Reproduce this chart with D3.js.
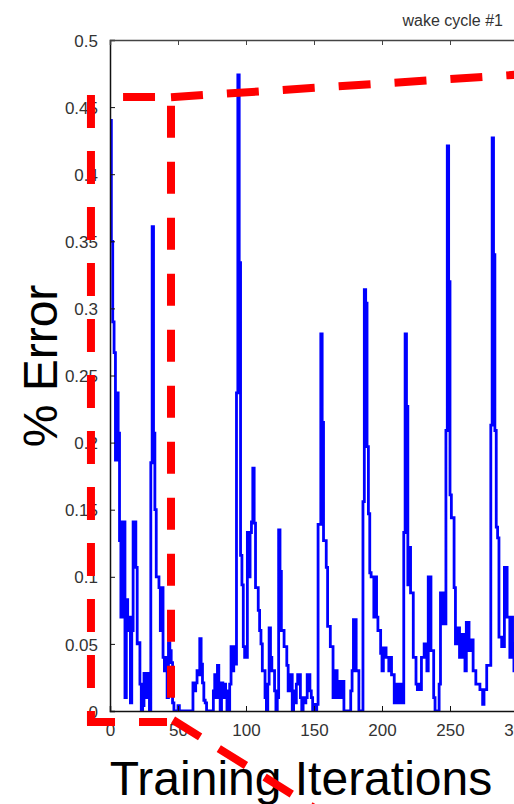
<!DOCTYPE html>
<html>
<head>
<meta charset="utf-8">
<script src="https://cdn.jsdelivr.net/npm/d3@7"></script>
<style>
  body { margin: 0; background: #fff; }
  .tick-label { font-family: "Liberation Sans", Arial, sans-serif; font-size: 17px; fill: #333; }
  .axis-title { font-family: "Liberation Sans", Arial, sans-serif; font-size: 48px; fill: #000; }
  .plot-title { font-family: "Liberation Sans", Arial, sans-serif; font-size: 16px; fill: #333; }
</style>
</head>
<body>
<div id="chart"></div>
<script>

// error per training iteration (index = iteration)
var errorRate = [
  0.44, 0.35, 0.29, 0.267, 0.187, 0.237, 0.207, 0.127, 0.07, 0.141,
  0.141, 0.01, 0.083, 0.06, 0.07, 0.006, 0.06, 0.141, 0.141, 0.107,
  0.05, 0.051, 0.02, 0.0, 0.004, 0.028, 0.028, 0.01, 0.028, 0.0,
  0.185, 0.361, 0.207, 0.15, 0.1, 0.1, 0.092, 0.06, 0.092, 0.04,
  0.03, 0.04, 0.01, 0.051, 0.045, 0.036, 0.006, 0, 0, 0,
  0.004, 0, 0, 0, 0, 0, 0, 0, 0, 0,
  0, 0.021, 0.015, 0.021, 0.03, 0.027, 0.054, 0.035, 0.021, 0.008,
  0.006, 0, 0, 0, 0, 0, 0.015, 0.027, 0.01, 0.034,
  0.02, 0, 0.021, 0.01, 0.02, 0.015, 0, 0, 0.02, 0.048,
  0.03, 0.048, 0.035, 0.237, 0.474, 0.334, 0.116, 0.094, 0.048, 0.04,
  0.04, 0.133, 0.1, 0.133, 0.141, 0.181, 0.14, 0.092, 0.092, 0.075,
  0.06, 0.05, 0.03, 0.03, 0.01, 0, 0.02, 0.062, 0.04, 0.03,
  0.03, 0.015, 0, 0.01, 0.135, 0.104, 0.06, 0.06, 0.048, 0.048,
  0.034, 0.015, 0.027, 0.027, 0, 0.015, 0.006, 0.02, 0.027, 0.027,
  0.01, 0, 0.01, 0.006, 0.01, 0.027, 0.027, 0.015, 0.01, 0,
  0.005, 0, 0.005, 0.139, 0.139, 0.281, 0.215, 0.127, 0.127, 0.107,
  0.063, 0.063, 0.048, 0.048, 0.01, 0.03, 0.03, 0.01, 0.022, 0.022,
  0.01, 0.022, 0, 0, 0, 0, 0, 0.015, 0.03, 0.068,
  0.068, 0.03, 0.03, 0, 0, 0, 0.156, 0.314, 0.304, 0.197,
  0.147, 0.103, 0.1, 0.1, 0.07, 0.1, 0.07, 0.06, 0.06, 0.043,
  0.03, 0.047, 0.047, 0.04, 0.04, 0.03, 0.04, 0.027, 0.027, 0.006,
  0.006, 0.02, 0.02, 0.006, 0.02, 0.006, 0.133, 0.281, 0.227, 0.094,
  0.122, 0.088, 0.088, 0.04, 0.04, 0.02, 0.016, 0.02, 0.016, 0.04,
  0.04, 0.05, 0.05, 0.03, 0.1, 0.1, 0.045, 0.045, 0.01, 0,
  0, 0, 0.02, 0.088, 0.088, 0.065, 0.065, 0.209, 0.421, 0.32,
  0.161, 0.144, 0.144, 0.092, 0.05, 0.062, 0.062, 0.04, 0.04, 0.057,
  0.057, 0.03, 0.066, 0.066, 0.045, 0.053, 0.053, 0.03, 0.03, 0.02,
  0.02, 0.02, 0.016, 0.016, 0.005, 0.016, 0.016, 0.034, 0.034, 0.034,
  0.213, 0.427, 0.34, 0.209, 0.137, 0.129, 0.055, 0.055, 0.048, 0.048,
  0.107, 0.107, 0.07, 0.07, 0.04, 0.07, 0.05, 0.03, 0.04, 0.06
];

var xTicks = [0, 50, 100, 150, 200, 250, 300];
var yTicks = [0, 0.05, 0.1, 0.15, 0.2, 0.25, 0.3, 0.35, 0.4, 0.45, 0.5];

var titleText = "wake cycle #1";
var xLabel = "Training Iterations";
var yLabel = "% Error";

// red dashed callout, in data units [iteration, error]
var calloutLeft   = [[-14, 0.459], [-14, -0.0104]];
var calloutBottom = [[-16.9, -0.0082], [43.4, -0.0082]];
var calloutDiag   = [[46.3, -0.0067], [161.8, -0.0797]];
var calloutRight  = [[44.85, 0.451], [44.85, 0.0082]];
var calloutTopA   = [[9.6, 0.4575], [33.1, 0.4575]];
var calloutTopB   = [[44.85, 0.4574], [301.5, 0.4743]];

// ---------------------------//
//       SVG AND SCALES       //
// ---------------------------//

var W = 514, H = 804;
var plotLeft = 110, plotTop = 40, plotBottom = 711;

var svg = d3.select("#chart").append("svg")
    .attr("width", W)
    .attr("height", H);

var x = d3.scaleLinear()
    .domain([0, 300])
    .range([plotLeft, plotLeft + 300 * 1.36]);

var y = d3.scaleLinear()
    .domain([0, 0.5])
    .range([plotBottom, plotTop]);

svg.append("clipPath")
    .attr("id", "plotClip")
  .append("rect")
    .attr("x", plotLeft)
    .attr("y", plotTop)
    .attr("width", W - plotLeft)
    .attr("height", plotBottom - plotTop);

// ---------------------------//
//       DATA LINE            //
// ---------------------------//

var line = d3.line()
    .x(function(d, i) { return x(i); })
    .y(function(d) { return y(d); })
    .curve(d3.curveStepAfter);

svg.append("path")
    .datum(errorRate)
    .attr("clip-path", "url(#plotClip)")
    .attr("d", line)
    .attr("fill", "none")
    .attr("stroke", "#0000ff")
    .attr("stroke-width", 2.8)
    .attr("stroke-linejoin", "miter");

// ---------------------------//
//       AXES                 //
// ---------------------------//

var axisColor = "#111";

// left axis
var yAxis = svg.append("g")
    .attr("transform", "translate(" + plotLeft + ",0)")
    .call(d3.axisLeft(y).tickValues(yTicks).tickSize(-5).tickPadding(12)
        .tickFormat(function(d) { return String(+d.toFixed(2)); }));
yAxis.select(".domain").attr("stroke", axisColor).attr("stroke-width", 1.5);
yAxis.selectAll(".tick line").attr("stroke", axisColor);
yAxis.selectAll(".tick text").attr("class", "tick-label").attr("dy", "0.36em");

// bottom axis
var xAxis = svg.append("g")
    .attr("transform", "translate(0," + plotBottom + ")")
    .call(d3.axisBottom(x).tickValues(xTicks).tickSize(-5).tickPadding(10));
xAxis.select(".domain").attr("stroke", axisColor).attr("stroke-width", 1.5);
xAxis.selectAll(".tick line").attr("stroke", axisColor);
xAxis.selectAll(".tick text").attr("class", "tick-label").attr("dy", "0.9em");

// top axis (ticks only)
var topAxis = svg.append("g")
    .attr("transform", "translate(0," + plotTop + ")")
    .call(d3.axisTop(x).tickValues(xTicks).tickSize(-5).tickFormat(""));
topAxis.select(".domain").attr("stroke", "#444").attr("stroke-width", 1.5);
topAxis.selectAll(".tick line").attr("stroke", "#444");

// ---------------------------//
//       LABELS               //
// ---------------------------//

svg.append("text")
    .attr("class", "plot-title")
    .attr("x", 503)
    .attr("y", 26)
    .attr("text-anchor", "end")
    .text(titleText);

svg.append("text")
    .attr("class", "axis-title")
    .attr("x", 301)
    .attr("y", 795)
    .attr("text-anchor", "middle")
    .text(xLabel);

svg.append("text")
    .attr("class", "axis-title")
    .attr("transform", "translate(57,366) rotate(-90)")
    .attr("text-anchor", "middle")
    .text(yLabel);

// ---------------------------//
//       RED CALLOUT          //
// ---------------------------//

var seg = d3.line()
    .x(function(d) { return x(d[0]); })
    .y(function(d) { return y(d[1]); });

function dashed(points, dash) {
  svg.append("path")
      .attr("d", seg(points))
      .attr("fill", "none")
      .attr("stroke", "#ff0000")
      .attr("stroke-width", 8)
      .style("stroke-dasharray", dash);
}

dashed(calloutLeft, "33,23");
dashed(calloutBottom, "28,24");
dashed(calloutDiag, "32,22");
dashed(calloutRight, "32,24");
dashed(calloutTopA, "32,24");
dashed(calloutTopB, "32,24");

</script>
</body>
</html>
